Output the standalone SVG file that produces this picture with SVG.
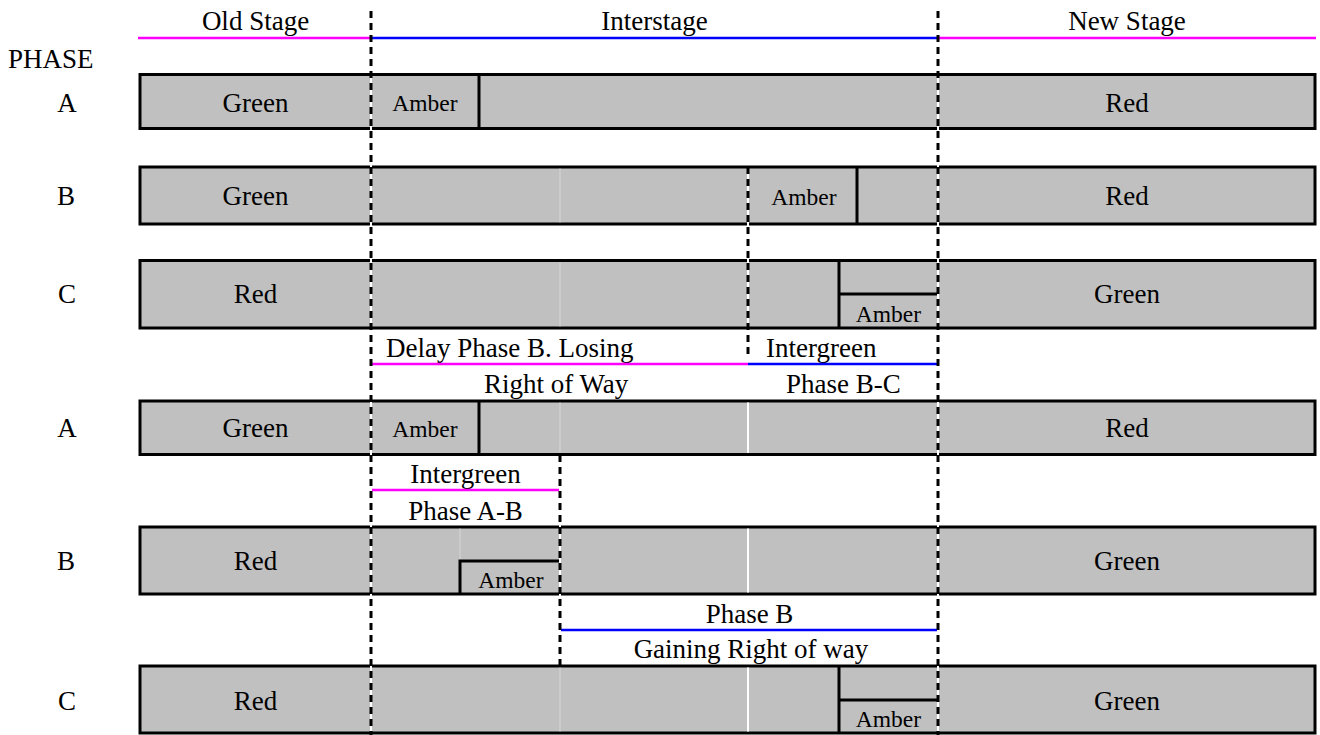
<svg xmlns="http://www.w3.org/2000/svg" width="1320" height="735" viewBox="0 0 1320 735">
<style>
text{font-family:"Liberation Serif","Times New Roman",serif;font-size:27px;fill:#000}
.m{text-anchor:middle}
.s{font-size:23.5px}
.bar{fill:#c0c0c0;stroke:#000;stroke-width:3}
.div{stroke:#000;stroke-width:3;fill:none}
.wl{stroke:#d6d6d6;stroke-width:1}
.dw{stroke:#fff;stroke-width:2}
.dash{stroke:#000;stroke-width:3;stroke-dasharray:7 5;fill:none}
.mag{stroke:#ff00ff;stroke-width:2.5}
.blu{stroke:#0000ff;stroke-width:2.5}
</style>
<rect width="1320" height="735" fill="#fff"/>

<g id="header">
<text class="m" x="255.5" y="30">Old Stage</text>
<text class="m" x="654.5" y="30">Interstage</text>
<text class="m" x="1127" y="30">New Stage</text>
<text x="8" y="68">PHASE</text>
</g>

<g id="rowA1">
<text class="m" x="67" y="112">A</text>
<rect class="bar" x="140" y="74.5" width="1175" height="54"/>
<line class="div" x1="479" y1="74.5" x2="479" y2="128.5"/>
<text class="m" x="255.5" y="112">Green</text>
<text class="m s" x="425" y="111">Amber</text>
<text class="m" x="1127" y="112">Red</text>
</g>

<g id="rowB1">
<text class="m" x="66" y="205">B</text>
<rect class="bar" x="140" y="167" width="1175" height="57"/>
<line class="wl" x1="560" y1="168.5" x2="560" y2="222.5"/>
<line class="div" x1="857" y1="167" x2="857" y2="224"/>
<text class="m" x="255.5" y="205">Green</text>
<text class="m s" x="804" y="205">Amber</text>
<text class="m" x="1127" y="205">Red</text>
</g>

<g id="rowC1">
<text class="m" x="67" y="303">C</text>
<rect class="bar" x="140" y="260.5" width="1175" height="67.5"/>
<line class="wl" x1="560" y1="262" x2="560" y2="326.5"/>
<path class="div" d="M839,260.5 V328 M839,294 H938"/>
<text class="m" x="255.5" y="303">Red</text>
<text class="m s" x="888.5" y="322">Amber</text>
<text class="m" x="1127" y="303">Green</text>
</g>

<g id="label-delay">
<text x="386" y="357">Delay Phase B. Losing</text>
<text x="484" y="393">Right of Way</text>
</g>
<g id="label-intergreen-bc">
<text x="766" y="357">Intergreen</text>
<text x="786" y="393">Phase B-C</text>
</g>

<g id="rowA2">
<text class="m" x="67" y="437">A</text>
<rect class="bar" x="140" y="401" width="1175" height="53.5"/>
<line class="wl" x1="560" y1="402.5" x2="560" y2="453"/>
<line class="dw" x1="748" y1="402.5" x2="748" y2="453"/>
<line class="div" x1="479" y1="401" x2="479" y2="454.5"/>
<text class="m" x="255.5" y="437">Green</text>
<text class="m s" x="425" y="437">Amber</text>
<text class="m" x="1127" y="437">Red</text>
</g>

<g id="label-intergreen-ab">
<text class="m" x="465.5" y="483">Intergreen</text>
<text class="m" x="465.5" y="520">Phase A-B</text>
</g>

<g id="rowB2">
<text class="m" x="66" y="570">B</text>
<rect class="bar" x="140" y="527" width="1175" height="67"/>
<line class="wl" x1="460" y1="528.5" x2="460" y2="561"/>
<line class="dw" x1="748" y1="528.5" x2="748" y2="592.5"/>
<path class="div" d="M460,594 V561 H560"/>
<text class="m" x="255.5" y="570">Red</text>
<text class="m s" x="511" y="588">Amber</text>
<text class="m" x="1127" y="570">Green</text>
</g>

<g id="label-phaseb">
<text class="m" x="749.5" y="623">Phase B</text>
<text class="m" x="751" y="658">Gaining Right of way</text>
</g>

<g id="rowC2">
<text class="m" x="67" y="710">C</text>
<rect class="bar" x="140" y="666" width="1175" height="67"/>
<line class="wl" x1="560" y1="667.5" x2="560" y2="731.5"/>
<line class="dw" x1="748" y1="667.5" x2="748" y2="731.5"/>
<path class="div" d="M839,666 V733 M839,700 H938"/>
<text class="m" x="255.5" y="710">Red</text>
<text class="m s" x="888.5" y="727">Amber</text>
<text class="m" x="1127" y="710">Green</text>
</g>

<g id="connectors">
<line class="mag" x1="138" y1="38" x2="371" y2="38"/>
<line class="blu" x1="371" y1="38" x2="938" y2="38"/>
<line class="mag" x1="938" y1="38" x2="1316" y2="38"/>
<line class="mag" x1="371" y1="364" x2="748" y2="364"/>
<line class="blu" x1="748" y1="364" x2="938" y2="364"/>
<line class="mag" x1="371" y1="490" x2="560" y2="490"/>
<line class="blu" x1="561" y1="630" x2="938" y2="630"/>

<line class="dw" x1="371" y1="10" x2="371" y2="735"/>
<line class="dw" x1="938" y1="10" x2="938" y2="735"/>
<line class="dw" x1="748" y1="167" x2="748" y2="358"/>
<line class="dw" x1="560" y1="455" x2="560" y2="666"/>
<line class="dash" x1="371" y1="11" x2="371" y2="735"/>
<line class="dash" x1="938" y1="11" x2="938" y2="735"/>
<line class="dash" x1="748" y1="167" x2="748" y2="358"/>
<line class="dash" x1="560" y1="455" x2="560" y2="666"/>
</g>
</svg>
